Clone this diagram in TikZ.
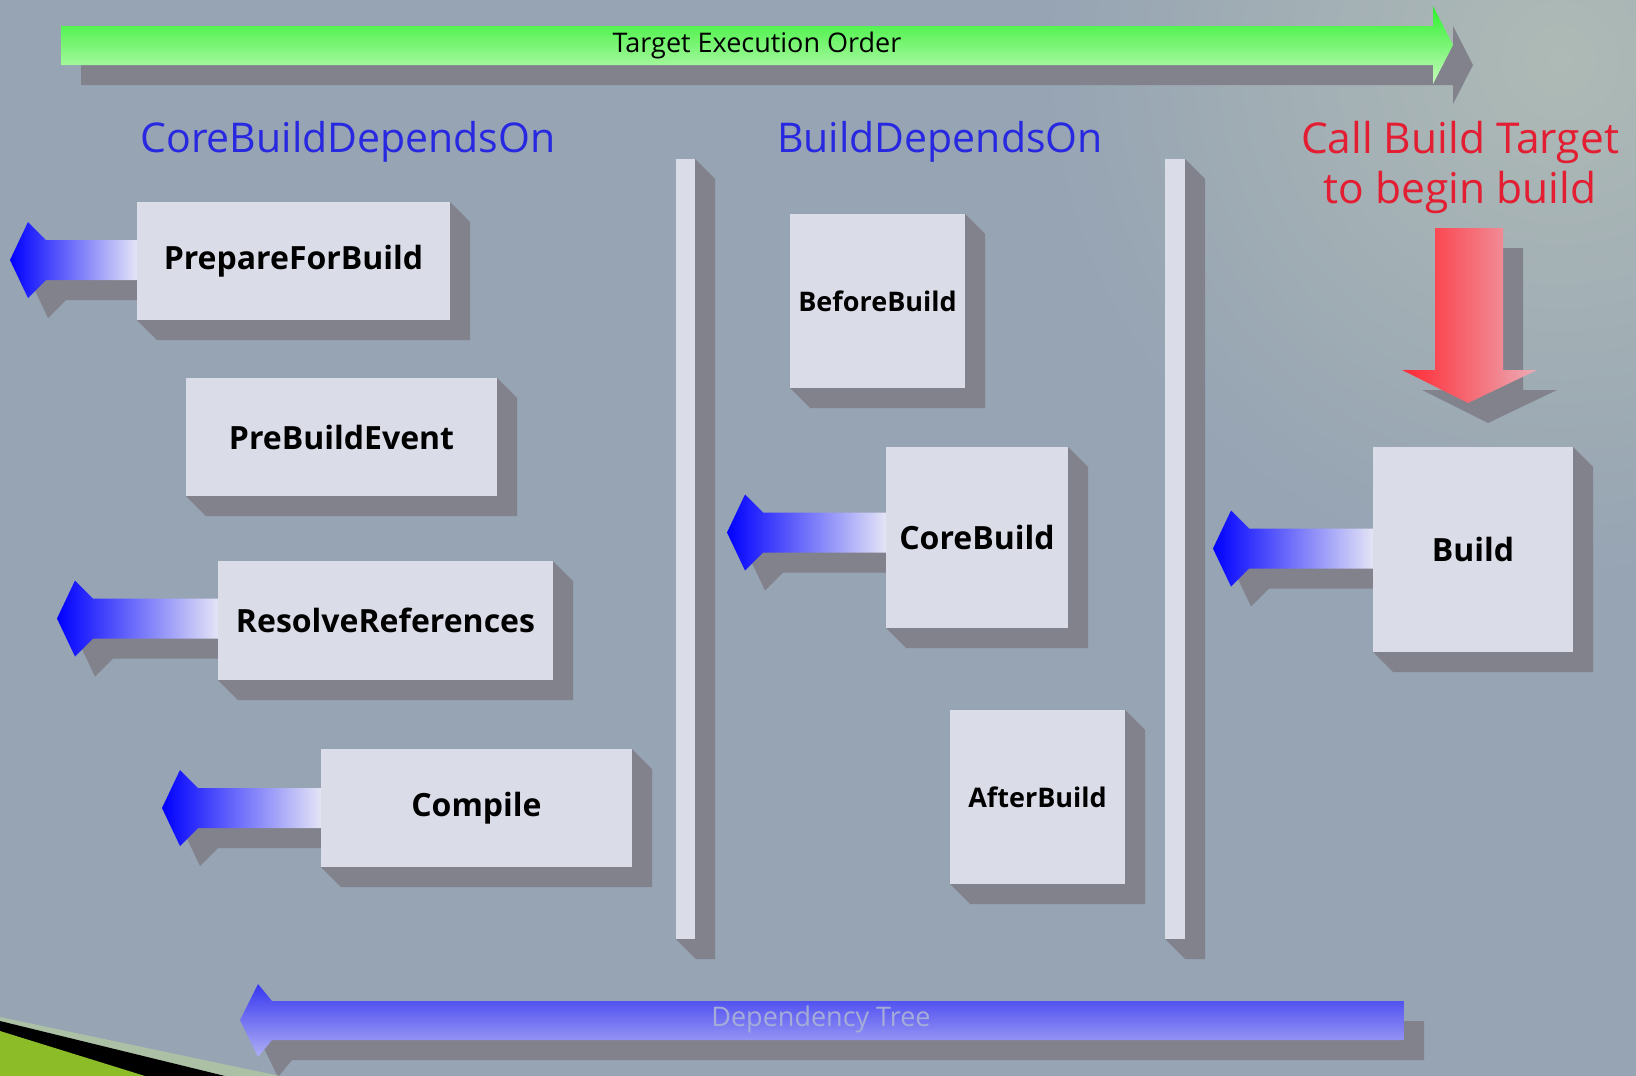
\documentclass[tikz,border=0pt]{standalone}
\usepackage{fontspec}
\setmainfont{Open Sans}
\usetikzlibrary{calc}

\definecolor{slate}{RGB}{150,164,180}
\definecolor{slatelight}{RGB}{174,186,181}
\definecolor{facegray}{RGB}{218,220,232}
\definecolor{sidegray}{RGB}{130,130,140}
\definecolor{headblue}{RGB}{40,40,225}
\definecolor{callred}{RGB}{228,30,50}
\definecolor{ordergreen}{RGB}{45,240,45}
\definecolor{ordergreenpale}{RGB}{200,250,190}
\definecolor{treeblue}{RGB}{55,55,240}
\definecolor{treebluepale}{RGB}{175,175,245}
\definecolor{treetext}{RGB}{165,172,215}
\definecolor{depblue}{RGB}{0,0,255}
\definecolor{depmid}{RGB}{120,120,255}
\definecolor{deppale}{RGB}{228,228,246}
\definecolor{callredstrong}{RGB}{255,40,50}
\definecolor{callpink}{RGB}{236,172,182}
\definecolor{swooshpale}{RGB}{172,192,165}
\definecolor{swooshgreen}{RGB}{140,188,40}

\pgfdeclarelayer{bg}
\pgfdeclarelayer{shade}
\pgfsetlayers{bg,shade,main}

\tikzset{
  taskbox/.style={fill=facegray, inner sep=0pt, outer sep=0pt,
    font=\bfseries\fontsize{32}{38}\selectfont},
  smallbox/.style={taskbox, font=\bfseries\fontsize{27}{32}\selectfont},
  barface/.style={fill=facegray, inner sep=0pt, outer sep=0pt},
  extrusion/.style={fill=sidegray},
  arrowfront/.style={left color=depblue, middle color=depmid, right color=deppale},
  colhead/.style={text=headblue, font=\fontsize{41}{49}\selectfont},
  ordertext/.style={font=\fontsize{27}{32}\selectfont},
}

% 3D side faces to the right of and below a node
\newcommand{\extrude}[1]{%
  \fill[extrusion] (#1.north east) -- ++(20,20) -- ($(#1.south east)+(20,20)$)
    -- ($(#1.south west)+(20,20)$) -- (#1.south west) -- (#1.south east) -- cycle;}

% dependency arrow leaving a node to the left: node, length, vertical shift
\newcommand{\deparrow}[3]{%
  \path (#1.west) ++(0,#3) coordinate (#1-end) ++(-#2,0) coordinate (#1-tip);
  \begin{pgfonlayer}{shade}
    \fill[extrusion] ($(#1-tip)+(20,20)$) -- ++(18,-38) -- ++(18,18)
      -- ($(#1-end)+(20,0)$) -- ++(0,40) -- ($(#1-tip)+(56,40)$) -- ++(-18,18) -- cycle;
    \shade[arrowfront] (#1-tip) -- ++(18,-38) -- ++(18,18)
      -- ($(#1-end)+(0,-20)$) -- ++(0,40) -- ($(#1-tip)+(36,20)$) -- ++(-18,18) -- cycle;
  \end{pgfonlayer}}

\begin{document}
\begin{tikzpicture}[x=1pt,y=-1pt]
  \useasboundingbox (0,0) rectangle (1636,1076);
  % backdrop
  \begin{pgfonlayer}{bg}
    \clip (0,0) rectangle (1636,1076);
    \fill[slate] (0,0) rectangle (1636,1076);
    \shade[inner color=slatelight, outer color=slate] (1560,60) circle (520);
  \end{pgfonlayer}

  % execution order arrow
  \fill[sidegray] (81,46) -- (1453,46) -- (1453,26) -- (1473,65) -- (1453,104) -- (1453,85) -- (81,85) -- cycle;
  \shade[top color=ordergreen, bottom color=ordergreenpale] (61,26) -- (1433,26) -- (1433,6) -- (1453,45)
    -- (1433,84) -- (1433,65) -- (61,65) -- cycle;
  \node[ordertext] (order) at (757,45) {Target Execution Order};

  % column titles
  \node[colhead] (coredeps) at (348,142) {CoreBuildDependsOn};
  \node[colhead] (builddeps) at (940,142) {BuildDependsOn};
  \node[colhead, text=callred, align=center, font=\fontsize{42.5}{50}\selectfont] (call) at (1460,167)
    {Call Build Target\\to begin build};

  % separators
  \node[barface, minimum width=19, minimum height=780] (leftbar) at (685.5,549) {};
  \extrude{leftbar}
  \node[barface, minimum width=20, minimum height=780] (rightbar) at (1175,549) {};
  \extrude{rightbar}

  % CoreBuild dependencies
  \node[taskbox, minimum width=313, minimum height=118] (prep) at (293.5,261) {PrepareForBuild};
  \node[taskbox, minimum width=311, minimum height=118] (prebuild) at (341.5,437) {PreBuildEvent};
  \node[taskbox, minimum width=335, minimum height=119] (resolve) at (385.5,620.5) {ResolveReferences};
  \node[taskbox, minimum width=311, minimum height=118] (compile) at (476.5,808) {Compile};
  \foreach \n in {prep,prebuild,resolve,compile} {\extrude{\n}}
  \deparrow{prep}{127}{-1}
  \deparrow{resolve}{161}{-2}
  \deparrow{compile}{159}{0}

  % Build dependencies
  \node[smallbox, minimum width=175, minimum height=174] (before) at (877.5,301) {BeforeBuild};
  \node[taskbox, minimum width=182, minimum height=181] (core) at (977,537.5) {CoreBuild};
  \node[smallbox, minimum width=175, minimum height=174] (after) at (1037.5,797) {AfterBuild};
  \foreach \n in {before,core,after} {\extrude{\n}}
  \deparrow{core}{159}{-5}

  % entry target
  \node[taskbox, minimum width=200, minimum height=205] (build) at (1473,549.5) {Build};
  \extrude{build}
  \deparrow{build}{160}{-1}

  % call arrow
  \fill[sidegray] (1455,248) -- (1523,248) -- (1523,390) -- (1557,390) -- (1488,423) -- (1422,390) -- (1455,390) -- cycle;
  \shade[left color=callredstrong, right color=callpink] (1435,228) -- (1503,228) -- (1503,370) -- (1537,370)
    -- (1468,403) -- (1402,370) -- (1435,370) -- cycle;

  % dependency tree arrow
  \fill[sidegray] (1424,1021) -- (292,1021) -- (278,1004) -- (260,1040) -- (278,1077) -- (292,1060) -- (1424,1060) -- cycle;
  \shade[top color=treeblue, bottom color=treebluepale] (1404,1001) -- (272,1001) -- (258,984) -- (240,1020)
    -- (258,1057) -- (272,1040) -- (1404,1040) -- cycle;
  \node[ordertext, text=treetext] (tree) at (821,1019) {Dependency Tree};

  % corner swoosh
  \fill[swooshpale] (0,1017) -- (280,1076) -- (0,1076) -- cycle;
  \fill[black] (0,1021) -- (225,1076) -- (0,1076) -- cycle;
  \fill[swooshgreen] (0,1031) -- (145,1076) -- (0,1076) -- cycle;
\end{tikzpicture}
\end{document}
